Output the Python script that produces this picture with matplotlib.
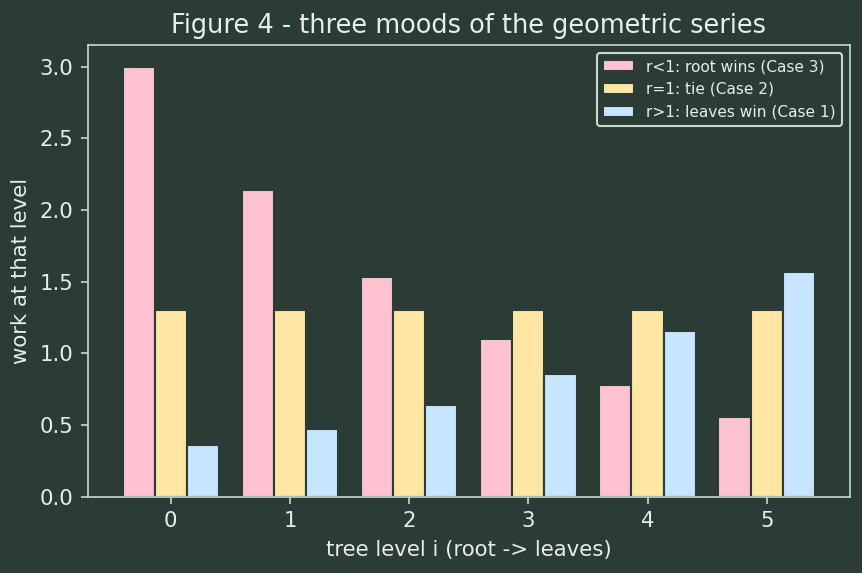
import numpy as np
import matplotlib
matplotlib.use("Agg")
import matplotlib.pyplot as plt

levels = [0, 1, 2, 3, 4, 5]
root_wins = [3.00, 2.14, 1.53, 1.10, 0.78, 0.56]
tie = [1.30, 1.30, 1.30, 1.30, 1.30, 1.30]
leaves_win = [0.36, 0.47, 0.64, 0.86, 1.16, 1.57]

bg = "#2b3b35"
fg = "#e6efe8"
spine = "#c9d8cf"

fig, ax = plt.subplots(figsize=(5.75, 3.82), dpi=150)
fig.patch.set_facecolor(bg)
ax.set_facecolor(bg)

x = np.arange(len(levels))
w = 0.27
ax.bar(x - w, root_wins, w, color="#ffc2d1", edgecolor=bg, linewidth=1,
       label="r<1: root wins (Case 3)")
ax.bar(x, tie, w, color="#ffe6a3", edgecolor=bg, linewidth=1,
       label="r=1: tie (Case 2)")
ax.bar(x + w, leaves_win, w, color="#c8e5ff", edgecolor=bg, linewidth=1,
       label="r>1: leaves win (Case 1)")

ax.set_xticks(x)
ax.set_xticklabels([str(i) for i in levels])
ax.set_title("Figure 4 - three moods of the geometric series", color=fg, fontsize=12.3)
ax.set_xlabel("tree level i (root -> leaves)", color=fg, fontsize=10.2)
ax.set_ylabel("work at that level", color=fg, fontsize=10.2)
ax.tick_params(colors=spine, labelcolor=fg, labelsize=10.2)
for s in ax.spines.values():
    s.set_color(spine)

leg = ax.legend(loc="upper right", fontsize=7.4, facecolor=bg, edgecolor=spine,
                framealpha=1)
for t in leg.get_texts():
    t.set_color(fg)

fig.subplots_adjust(left=0.102, right=0.985, top=0.921, bottom=0.133)
fig.savefig("out.png", dpi=150, facecolor=bg)
